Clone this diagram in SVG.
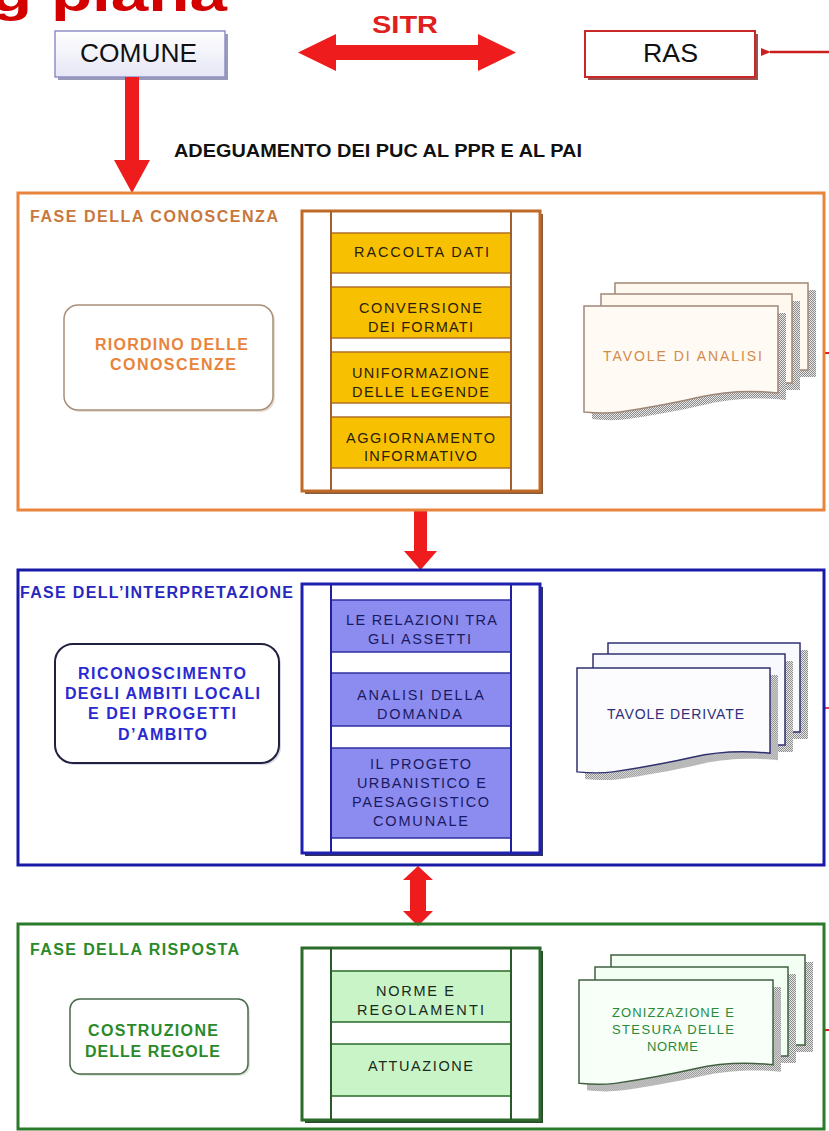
<svg xmlns="http://www.w3.org/2000/svg" width="829" height="1131" viewBox="0 0 829 1131">
<defs>
<style>
text{font-family:"Liberation Sans",Arial,sans-serif}
.b{font-weight:bold}
.cell{font-size:14.5px}
.doc{font-size:14px}
.ph{font-size:16px;font-weight:bold}
.lb{font-size:16px;font-weight:bold}
.arrow{fill:#ee1c1c}
.post{stroke-width:2;fill:none}
</style>
<pattern id="dots" width="2" height="2" patternUnits="userSpaceOnUse">
<rect width="2" height="2" fill="#e8e8e8"/>
<rect width="1" height="1" fill="#8a8a8a"/>
<rect x="1" y="1" width="1" height="1" fill="#8a8a8a"/>
</pattern>
<linearGradient id="gCom" x1="0" y1="0" x2="0" y2="1">
<stop offset="0" stop-color="#ffffff"/>
<stop offset="1" stop-color="#e6e6f6"/>
</linearGradient>
<path id="front" d="M0,0 H194 V87 C176,85 146,84 116,91 C86,98 56,103 36,106 C21,108 10,107 0,106 Z"/>
<marker id="hl" markerWidth="10" markerHeight="8" refX="1" refY="4" orient="auto" markerUnits="userSpaceOnUse">
<path d="M10,0 L0,4 L10,8 Z" fill="#cc2020"/>
</marker>
</defs>
<rect width="829" height="1131" fill="#ffffff"/>

<g id="title">
<text class="b" x="-9" y="11" font-size="48" fill="#d40000" textLength="236" lengthAdjust="spacingAndGlyphs">g piana</text>
</g>

<g id="comune">
<rect x="58" y="34" width="170" height="46" fill="#9a9ab8"/>
<rect x="55" y="31" width="170" height="46" fill="url(#gCom)" stroke="#9090c8" stroke-width="1.5"/>
<text x="80" y="62" font-size="26" fill="#111" textLength="117" lengthAdjust="spacingAndGlyphs">COMUNE</text>
</g>

<g id="ras">
<rect x="588" y="34" width="170" height="46" fill="#9a5050"/>
<rect x="585" y="31" width="170" height="46" fill="#ffffff" stroke="#c82828" stroke-width="2"/>
<text x="643" y="62" font-size="26" fill="#111" textLength="55" lengthAdjust="spacingAndGlyphs">RAS</text>
</g>

<g id="sitr-label">
<text class="b" x="372" y="33" font-size="23" fill="#e02020" textLength="66" lengthAdjust="spacingAndGlyphs">SITR</text>
</g>

<g id="adeguamento">
<text class="b" x="174" y="157" font-size="19" fill="#111" textLength="408" lengthAdjust="spacingAndGlyphs">ADEGUAMENTO DEI PUC AL PPR E AL PAI</text>
</g>

<g id="connectors">
<polygon class="arrow" points="298,52.5 336,34 336,45 478,45 478,34 516,52.5 478,71 478,60 336,60 336,71"/>
<polygon class="arrow" points="125,77 139,77 139,160 150,160 132,193 114,160 125,160"/>
<polygon class="arrow" points="414,510 427,510 427,551 437,551 420.5,570 404,551 414,551"/>
<polygon class="arrow" points="418,866 433,880 426,880 426,911 433,911 418,926 403,911 410,911 410,880 403,880"/>
<line x1="829" y1="52" x2="770" y2="52" stroke="#cc2020" stroke-width="2.5" marker-end="url(#hl)"/>
<line x1="823" y1="353" x2="829" y2="353" stroke="#dd2020" stroke-width="2"/>
<line x1="823" y1="708" x2="829" y2="708" stroke="#dd4060" stroke-width="2"/>
<line x1="823" y1="1030" x2="829" y2="1030" stroke="#dd2020" stroke-width="2"/>
</g>

<!-- PHASE 1 -->
<g id="fase-conoscenza">
<rect x="18" y="193" width="806" height="317" fill="none" stroke="#e8843c" stroke-width="3"/>
<text class="ph" x="30" y="222" fill="#c8783c" textLength="248" lengthAdjust="spacing">FASE DELLA CONOSCENZA</text>
</g>
<g id="riordino">
<rect x="66" y="307" width="209" height="105" rx="14" fill="#e8e0d8"/>
<rect x="64" y="305" width="209" height="105" rx="14" fill="#ffffff" stroke="#a89078" stroke-width="1.5"/>
<text class="lb" x="95" y="350" fill="#e8843c" textLength="153" lengthAdjust="spacing">RIORDINO DELLE</text>
<text class="lb" x="110" y="370" fill="#e8843c" textLength="126" lengthAdjust="spacing">CONOSCENZE</text>
</g>
<g id="ladder-conoscenza">
<rect x="305" y="214" width="238" height="280" fill="#8a5a3a"/>
<rect x="302" y="211" width="238" height="280" fill="#ffffff" stroke="#c06a28" stroke-width="3"/>
<g fill="#f7c000" stroke="#b07028" stroke-width="1.5">
<rect x="331" y="233" width="180" height="40"/>
<rect x="331" y="287" width="180" height="51"/>
<rect x="331" y="352" width="180" height="51"/>
<rect x="331" y="417" width="180" height="51"/>
</g>
<line class="post" x1="331" y1="211" x2="331" y2="491" stroke="#a06030"/>
<line class="post" x1="511" y1="211" x2="511" y2="491" stroke="#a06030"/>
<g class="cell" fill="#2a2010">
<text x="354" y="257" textLength="135" lengthAdjust="spacing">RACCOLTA DATI</text>
<text x="359" y="313" textLength="123" lengthAdjust="spacing">CONVERSIONE</text>
<text x="368" y="332" textLength="105" lengthAdjust="spacing">DEI FORMATI</text>
<text x="352" y="378" textLength="137" lengthAdjust="spacing">UNIFORMAZIONE</text>
<text x="352" y="397" textLength="137" lengthAdjust="spacing">DELLE LEGENDE</text>
<text x="346" y="443" textLength="149" lengthAdjust="spacing">AGGIORNAMENTO</text>
<text x="364" y="461" textLength="113" lengthAdjust="spacing">INFORMATIVO</text>
</g>
</g>
<g id="tavole-analisi">
<rect x="623" y="290" width="193" height="87" fill="url(#dots)"/>
<rect x="615" y="283" width="193" height="87" fill="#fff8ee" stroke="#a08878" stroke-width="1.5"/>
<rect x="609" y="301" width="191" height="89" fill="url(#dots)"/>
<rect x="601" y="294" width="191" height="89" fill="#fff8ee" stroke="#a08878" stroke-width="1.5"/>
<use href="#front" transform="translate(592,313)" fill="url(#dots)"/>
<use href="#front" transform="translate(584,306)" fill="#fffaf4" stroke="#a08878" stroke-width="1.5"/>
<text class="doc" x="603" y="361" fill="#d48a48" textLength="159" lengthAdjust="spacing">TAVOLE DI ANALISI</text>
</g>

<!-- PHASE 2 -->
<g id="fase-interpretazione">
<rect x="18" y="570" width="806" height="295" fill="none" stroke="#1a1aa8" stroke-width="3"/>
<text class="ph" x="20" y="598" fill="#2828c0" textLength="273" lengthAdjust="spacing">FASE DELL’INTERPRETAZIONE</text>
</g>
<g id="riconoscimento">
<rect x="57" y="646" width="224" height="119" rx="18" fill="#d8d8e8"/>
<rect x="55" y="644" width="224" height="119" rx="18" fill="#ffffff" stroke="#202040" stroke-width="2"/>
<g class="lb" fill="#2a2ad0">
<text x="78" y="679" textLength="168" lengthAdjust="spacing">RICONOSCIMENTO</text>
<text x="65" y="699" textLength="195" lengthAdjust="spacing">DEGLI AMBITI LOCALI</text>
<text x="88" y="719" textLength="148" lengthAdjust="spacing">E DEI PROGETTI</text>
<text x="118" y="740" textLength="89" lengthAdjust="spacing">D’AMBITO</text>
</g>
</g>
<g id="ladder-interpretazione">
<rect x="305" y="587" width="238" height="269" fill="#303060"/>
<rect x="302" y="584" width="238" height="269" fill="#ffffff" stroke="#2020b0" stroke-width="3"/>
<g fill="#8c8cf0" stroke="#3030a0" stroke-width="1.5">
<rect x="331" y="600" width="180" height="52"/>
<rect x="331" y="673" width="180" height="53"/>
<rect x="331" y="748" width="180" height="90"/>
</g>
<line class="post" x1="331" y1="584" x2="331" y2="853" stroke="#2020a0"/>
<line class="post" x1="511" y1="584" x2="511" y2="853" stroke="#2020a0"/>
<g class="cell" fill="#1a1a60">
<text x="346" y="625" textLength="151" lengthAdjust="spacing">LE RELAZIONI TRA</text>
<text x="368" y="644" textLength="103" lengthAdjust="spacing">GLI ASSETTI</text>
<text x="357" y="700" textLength="127" lengthAdjust="spacing">ANALISI DELLA</text>
<text x="377" y="719" textLength="85" lengthAdjust="spacing">DOMANDA</text>
<text x="370" y="769" textLength="101" lengthAdjust="spacing">IL PROGETO</text>
<text x="357" y="788" textLength="129" lengthAdjust="spacing">URBANISTICO E</text>
<text x="352" y="807" textLength="137" lengthAdjust="spacing">PAESAGGISTICO</text>
<text x="373" y="826" textLength="95" lengthAdjust="spacing">COMUNALE</text>
</g>
</g>
<g id="tavole-derivate">
<rect x="616" y="650" width="192" height="89" fill="url(#dots)"/>
<rect x="608" y="643" width="192" height="89" fill="#f8f8ff" stroke="#303070" stroke-width="1.5"/>
<rect x="601" y="661" width="192" height="91" fill="url(#dots)"/>
<rect x="593" y="654" width="192" height="91" fill="#f8f8ff" stroke="#303070" stroke-width="1.5"/>
<use href="#front" transform="translate(585,675) scale(0.995,0.98)" fill="url(#dots)"/>
<use href="#front" transform="translate(577,668) scale(0.995,0.98)" fill="#fcfcff" stroke="#303070" stroke-width="1.5"/>
<text class="doc" x="607" y="719" fill="#30307a" textLength="137" lengthAdjust="spacing">TAVOLE DERIVATE</text>
</g>

<!-- PHASE 3 -->
<g id="fase-risposta">
<rect x="18" y="924" width="806" height="205" fill="none" stroke="#2a7a2a" stroke-width="3"/>
<text class="ph" x="30" y="955" fill="#2a8a2a" textLength="209" lengthAdjust="spacing">FASE DELLA RISPOSTA</text>
</g>
<g id="costruzione">
<rect x="72" y="1001" width="178" height="75" rx="10" fill="#dde8dd"/>
<rect x="70" y="999" width="178" height="75" rx="10" fill="#ffffff" stroke="#4a6a4a" stroke-width="1.5"/>
<text class="lb" x="88" y="1036" fill="#2a8a2a" textLength="130" lengthAdjust="spacing">COSTRUZIONE</text>
<text class="lb" x="85" y="1057" fill="#2a8a2a" textLength="135" lengthAdjust="spacing">DELLE REGOLE</text>
</g>
<g id="ladder-risposta">
<rect x="305" y="951" width="238" height="172" fill="#2a4a2a"/>
<rect x="302" y="948" width="238" height="172" fill="#ffffff" stroke="#2a6a2a" stroke-width="3"/>
<g fill="#c8f4c8" stroke="#2a6a2a" stroke-width="1.5">
<rect x="331" y="971" width="180" height="51"/>
<rect x="331" y="1044" width="180" height="52"/>
</g>
<line class="post" x1="331" y1="948" x2="331" y2="1120" stroke="#2a5a2a"/>
<line class="post" x1="511" y1="948" x2="511" y2="1120" stroke="#2a5a2a"/>
<g class="cell" fill="#1a2a1a">
<text x="376" y="996" textLength="78" lengthAdjust="spacing">NORME E</text>
<text x="357" y="1015" textLength="127" lengthAdjust="spacing">REGOLAMENTI</text>
<text x="368" y="1071" textLength="105" lengthAdjust="spacing">ATTUAZIONE</text>
</g>
</g>
<g id="zonizzazione">
<rect x="619" y="962" width="194" height="90" fill="url(#dots)"/>
<rect x="611" y="955" width="194" height="90" fill="#f2fff2" stroke="#406040" stroke-width="1.5"/>
<rect x="603" y="974" width="193" height="89" fill="url(#dots)"/>
<rect x="595" y="967" width="193" height="89" fill="#f2fff2" stroke="#406040" stroke-width="1.5"/>
<use href="#front" transform="translate(587,987) scale(1,0.975)" fill="url(#dots)"/>
<use href="#front" transform="translate(579,980) scale(1,0.975)" fill="#f8fff8" stroke="#406040" stroke-width="1.5"/>
<g font-size="13" fill="#2a8a3a">
<text x="612" y="1017" textLength="122" lengthAdjust="spacing">ZONIZZAZIONE E</text>
<text x="612" y="1034" textLength="122" lengthAdjust="spacing">STESURA DELLE</text>
<text x="647" y="1051" textLength="51" lengthAdjust="spacing">NORME</text>
</g>
</g>
</svg>
